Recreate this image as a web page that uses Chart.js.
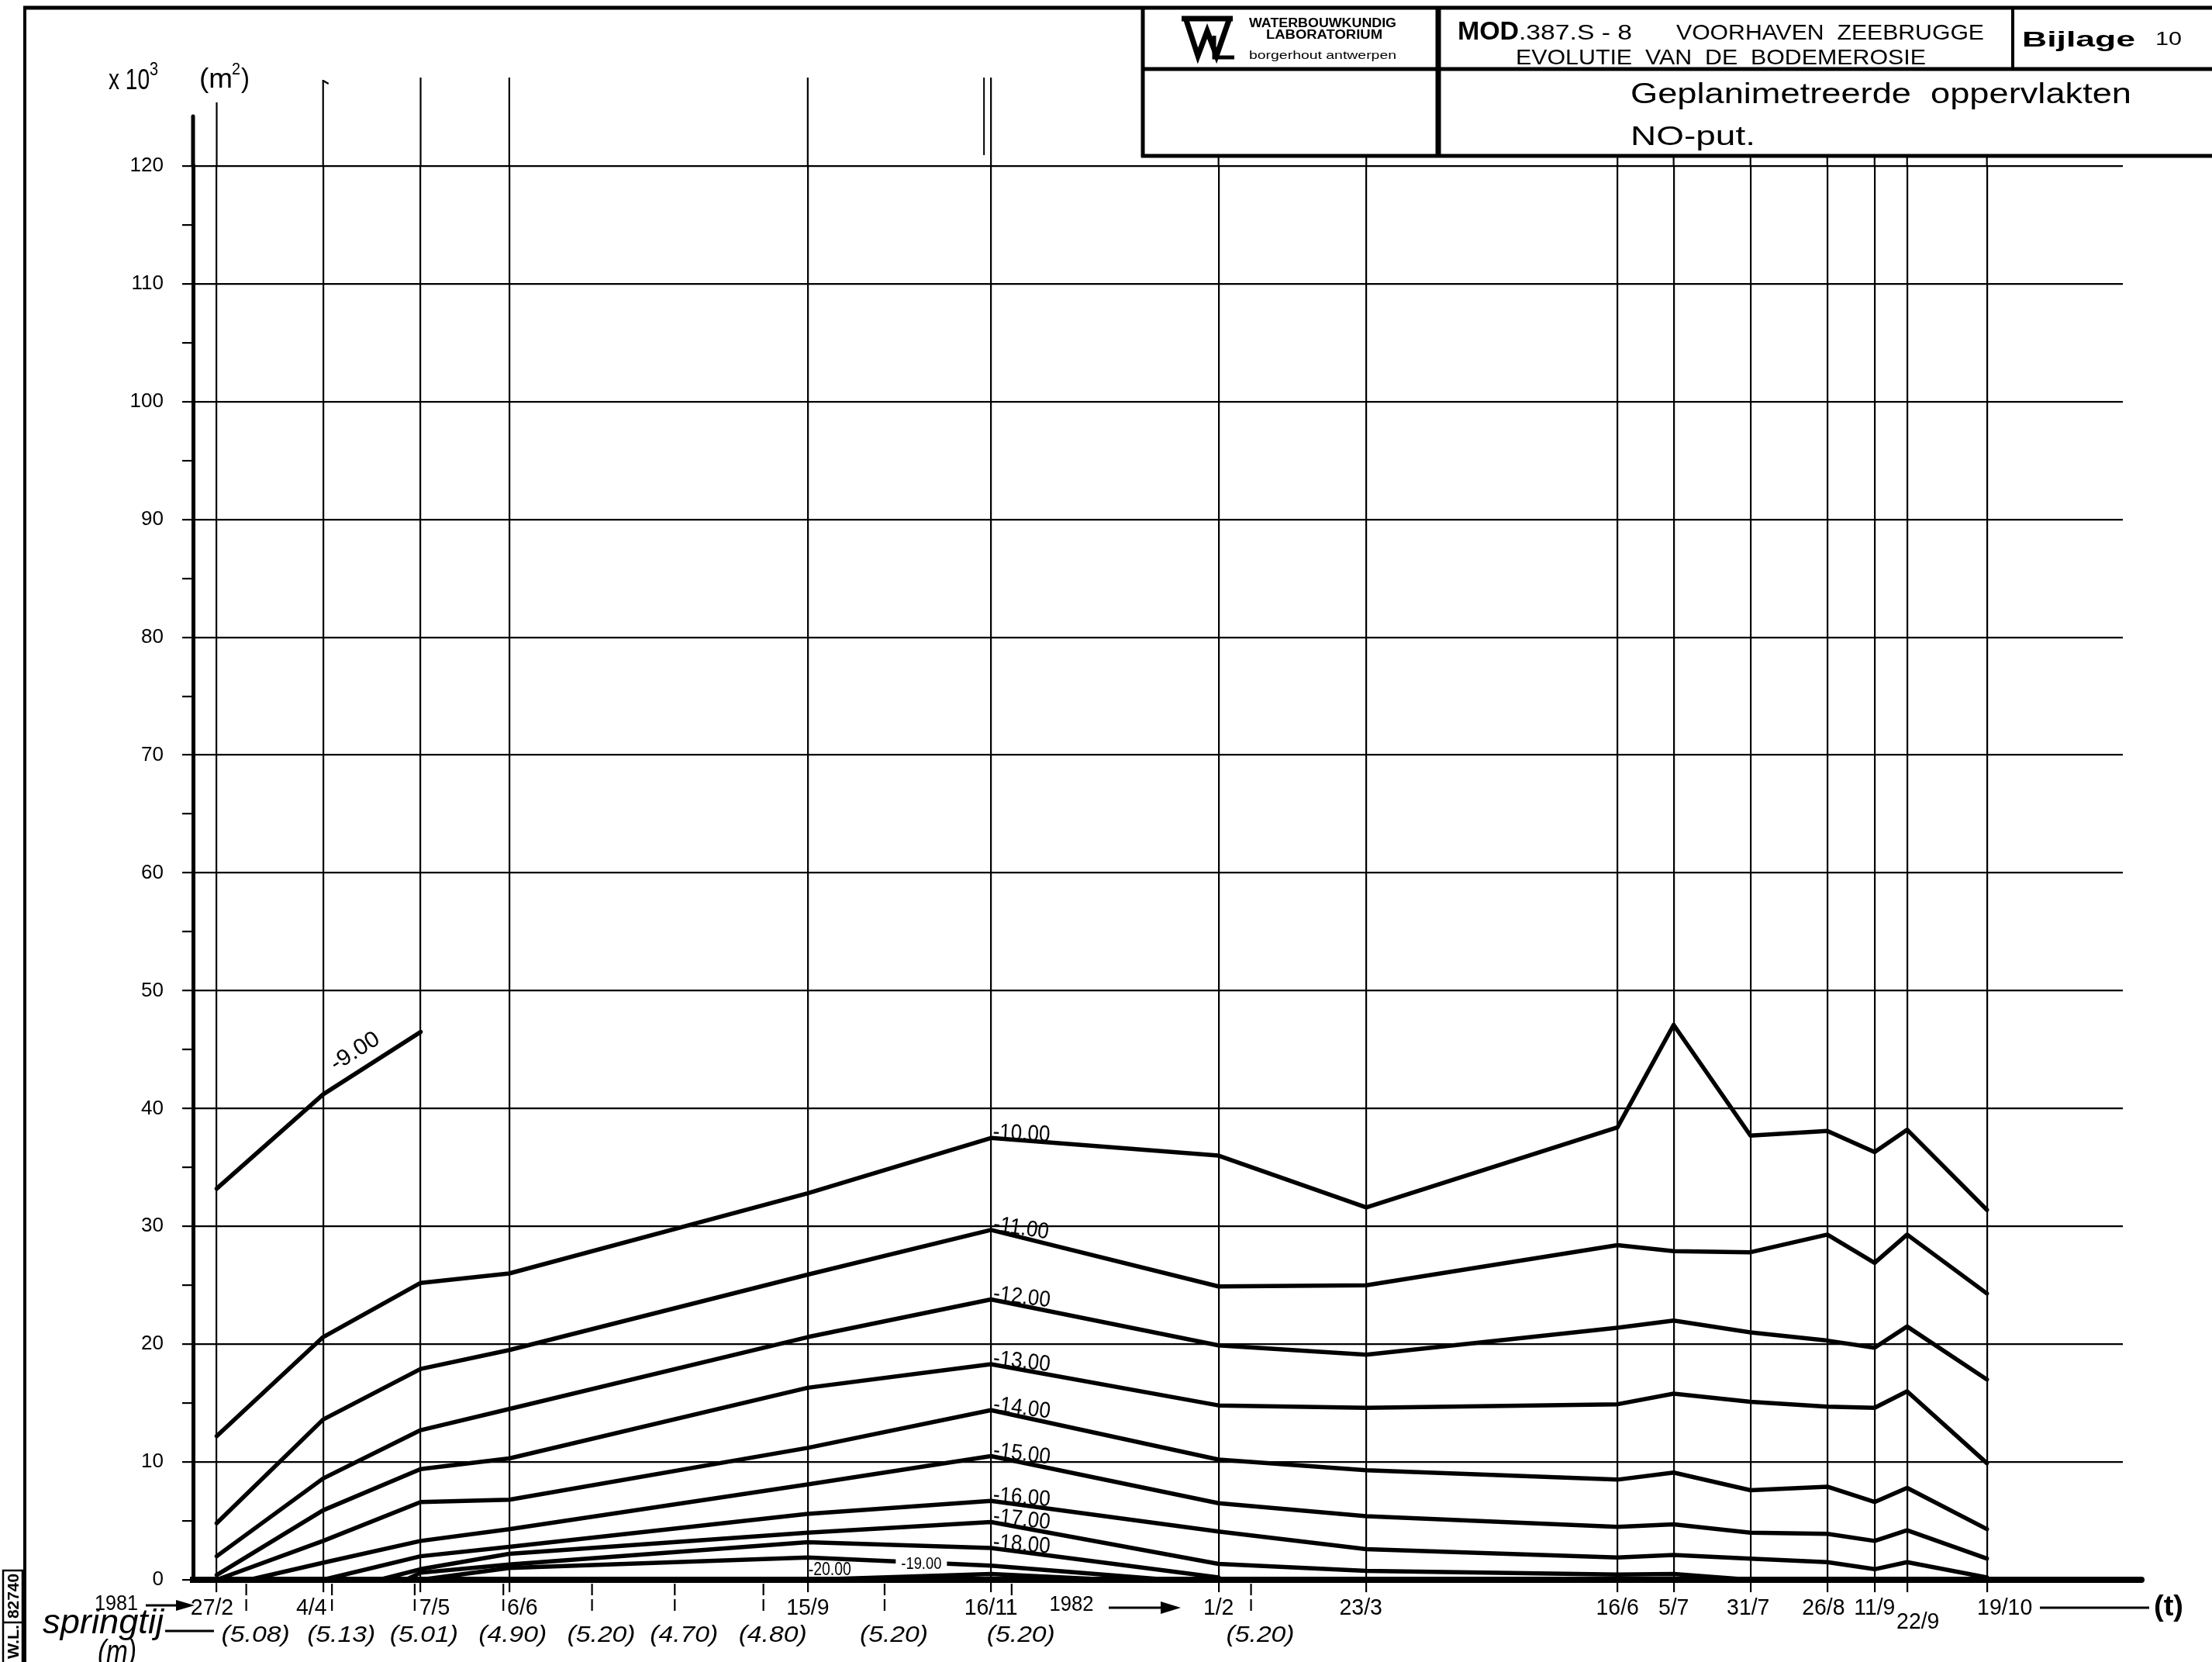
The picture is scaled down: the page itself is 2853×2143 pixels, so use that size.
<!DOCTYPE html>
<html>
<head>
<meta charset="utf-8">
<title>Voorhaven Zeebrugge – Geplanimetreerde oppervlakten NO-put</title>
<script src="https://cdn.jsdelivr.net/npm/chart.js@4.4.1/dist/chart.umd.min.js"></script>
<style>
  html, body { margin: 0; padding: 0; background: #fff; overflow: hidden; }
  #sheet { position: relative; width: 2853px; height: 2143px; }
  canvas { display: block; }
</style>
</head>
<body>
<div id="sheet"><canvas id="chart" width="2853" height="2143"></canvas></div>
<script>
// ---- survey campaigns (x axis) ----
const surveyDates = ['1981-02-27', '1981-04-04', '1981-05-07', '1981-06-06', '1981-09-15', '1981-11-16',
                     '1982-02-01', '1982-03-23', '1982-06-16', '1982-07-05', '1982-07-31', '1982-08-26',
                     '1982-09-11', '1982-09-22', '1982-10-19'];
const surveyLabels = ['27/2', '4/4', '7/5', '6/6', '15/9', '16/11', '1/2', '23/3', '16/6', '5/7', '31/7',
                      '26/8', '11/9', '22/9', '19/10'];

// ---- spring tides and their heights (m) ----
const springDates = ['1981-03-09', '1981-04-07', '1981-05-05', '1981-06-04', '1981-07-04', '1981-08-01',
                     '1981-08-31', '1981-10-11', '1981-11-23', '1982-02-12'];
const springHeights = ['5.08', '5.13', '5.01', '4.90', '5.20', '4.70', '4.80', '5.20', '5.20', '5.20'];

// ---- depth contours (m) ----
const depthLevels = ['-9.00', '-10.00', '-11.00', '-12.00', '-13.00', '-14.00',
                     '-15.00', '-16.00', '-17.00', '-18.00', '-19.00', '-20.00'];

// planimetered area inside each contour, x 10^3 m², one value per survey (null = not drawn)
const area_9  = [33.2, 41.2, 46.5, null, null, null, null, null, null, null, null, null, null, null, null];
const area_10 = [12.2, 20.6, 25.2, 26.0, 32.8, 37.5, 36.0, 31.6, 38.4, 47.1, 37.7, 38.1, 36.3, 38.2, 31.4];
const area_11 = [4.8, 13.6, 17.9, 19.5, 25.9, 29.7, 24.9, 25.0, 28.4, 27.9, 27.8, 29.3, 26.9, 29.3, 24.3];
const area_12 = [2.0, 8.6, 12.7, 14.5, 20.6, 23.8, 19.9, 19.1, 21.4, 22.0, 21.0, 20.3, 19.7, 21.5, 17.0];
const area_13 = [0.4, 5.9, 9.4, 10.3, 16.3, 18.3, 14.8, 14.6, 14.9, 15.8, 15.1, 14.7, 14.6, 16.0, 9.9];
const area_14 = [0, 3.3, 6.6, 6.8, 11.2, 14.4, 10.2, 9.3, 8.5, 9.1, 7.6, 7.9, 6.6, 7.8, 4.3];
const area_15 = [null, 1.45, 3.3, 4.3, 8.1, 10.5, 6.5, 5.4, 4.5, 4.7, 4.0, 3.9, 3.3, 4.2, 1.8];
const area_16 = [null, 0, 2.0, 2.8, 5.6, 6.7, 4.1, 2.6, 1.9, 2.1, 1.8, 1.5, 0.9, 1.5, 0.2];
const area_17 = [null, null, 0.9, 2.2, 4.0, 4.9, 1.35, 0.75, 0.45, 0.5, 0, null, null, null, null];
const area_18 = [null, null, 0.6, 1.3, 3.2, 2.7, 0.2, null, null, null, null, null, null, null, null];
const area_19 = [null, null, 0, 1.0, 1.9, 1.2, null, null, null, null, null, null, null, null, null];
const area_20 = [null, null, null, null, 0, 0.5, null, null, null, null, null, null, null, null, null];
const levelValues = [area_9, area_10, area_11, area_12, area_13, area_14,
                     area_15, area_16, area_17, area_18, area_19, area_20];

// dates where a contour leaves / returns to zero area between two surveys
const zeroStartDates = [null, null, null, null, null, null, '1981-03-10', null, '1981-04-23', '1981-05-02', null, null];
const zeroEndDates   = [null, null, null, null, null, null, null, null, null, null, '1982-01-15', '1981-12-27'];

// y axis
const yTickStep = 5;
const yMax = 120;

// ---------------------------------------------------------------
const T0 = Date.UTC(1981, 0, 1);
const dayOf = s => (Date.parse(s + 'T00:00:00Z') - T0) / 86400000;

const datasets = depthLevels.map((lvl, i) => {
  const pts = [];
  if (zeroStartDates[i]) pts.push({ x: dayOf(zeroStartDates[i]), y: 0 });
  levelValues[i].forEach((v, j) => { if (v !== null) pts.push({ x: dayOf(surveyDates[j]), y: v }); });
  if (zeroEndDates[i]) pts.push({ x: dayOf(zeroEndDates[i]), y: 0 });
  return { label: lvl, data: pts, borderColor: '#000', borderWidth: 5.5, pointRadius: 0,
           tension: 0, fill: false, clip: false, borderJoinStyle: 'round', borderCapStyle: 'round' };
});

const FONT = '"Liberation Sans", Arial, sans-serif';

function txt(c, s, x, y, o) {
  o = o || {};
  c.save();
  c.translate(x, y);
  if (o.rot) c.rotate(o.rot);
  c.font = o.font;
  let sx = o.sx || 1;
  if (o.w) sx = o.w / c.measureText(s).width;
  c.scale(sx, 1);
  c.textAlign = o.align || 'left';
  c.textBaseline = 'alphabetic';
  c.fillStyle = '#000';
  c.fillText(s, 0, 0);
  c.restore();
}
function seg(c, x1, y1, x2, y2, w, cap) {
  c.save();
  c.strokeStyle = '#000';
  c.lineWidth = w;
  c.lineCap = cap || 'butt';
  c.beginPath(); c.moveTo(x1, y1); c.lineTo(x2, y2); c.stroke();
  c.restore();
}
function arrowHead(c, x, y, len, half) {
  c.save(); c.fillStyle = '#000';
  c.beginPath(); c.moveTo(x, y); c.lineTo(x - len, y - half); c.lineTo(x - len, y + half); c.closePath(); c.fill();
  c.restore();
}

// label placement tweaks for the date row
const dateLabelShift = { '27/2': [-6, 0], '4/4': [-15, 0], '7/5': [18, 0], '6/6': [17, 0], '23/3': [-7, 0],
                         '31/7': [-3, 0], '26/8': [-5, 0], '22/9': [14, 18], '19/10': [23, 0] };

const sheetPlugin = {
  id: 'drawingSheet',
  beforeDraw(chart) {
    const c = chart.ctx;
    c.save(); c.fillStyle = '#fff'; c.fillRect(0, 0, chart.width, chart.height); c.restore();
  },
  afterDatasetsDraw(chart) {
    const c = chart.ctx, xs = chart.scales.x, ys = chart.scales.y, area = chart.chartArea;
    const px = d => xs.getPixelForValue(dayOf(d));
    const py = v => ys.getPixelForValue(v);
    const y0 = py(0);

    // survey lines continue above the grid
    surveyDates.forEach((d, i) => {
      let top = d < '1982' ? 100 : 203;
      if (i === 0) top = 132;
      if (i === 1) top = 103;
      seg(c, px(d), area.top, px(d), top, 2.2);
    });
    seg(c, px(surveyDates[1]), 104, px(surveyDates[1]) + 7, 108, 2.2);
    seg(c, px(surveyDates[5]) - 9, 100, px(surveyDates[5]) - 9, 200, 2);

    // axis extensions
    seg(c, area.left, area.top, area.left, 150, 5, 'round');
    seg(c, area.right - 2, y0, area.right + 24, y0, 8, 'round');

    // spring tide markers
    c.save();
    c.setLineDash([15, 5]);
    springDates.forEach(d => seg(c, px(d), y0 + 5, px(d), y0 + 41, 2.2));
    c.restore();

    // date row
    surveyLabels.forEach((lab, i) => {
      const sh = dateLabelShift[lab] || [0, 0];
      txt(c, lab, px(surveyDates[i]) + sh[0], 2082 + sh[1], { font: '29px ' + FONT, sx: 0.98, align: 'center' });
    });
    txt(c, '1981', 150, 2076, { font: '27px ' + FONT, w: 56, align: 'center' });
    seg(c, 188, 2070, 232, 2070, 3);
    arrowHead(c, 251, 2070, 24, 7);
    txt(c, '1982', 1382, 2077, { font: '28px ' + FONT, w: 57, align: 'center' });
    seg(c, 1430, 2073, 1500, 2073, 3);
    arrowHead(c, 1523, 2073, 26, 8);
    seg(c, 2631, 2073, 2772, 2073, 3);
    txt(c, '(t)', 2797, 2083, { font: 'bold 36px ' + FONT, w: 38, align: 'center' });

    // spring tide row
    springHeights.forEach((h, i) => {
      txt(c, '(' + h + ')', px(springDates[i]) + 12, 2117, { font: 'italic 30px ' + FONT, w: 88, align: 'center' });
    });
    txt(c, 'springtij', 55, 2106, { font: 'italic 44px ' + FONT, w: 156 });
    seg(c, 213, 2103, 276, 2103, 3);
    txt(c, '(m)', 126, 2144, { font: 'italic 42px ' + FONT, w: 50 });

    // contour labels
    const iNov = surveyDates.indexOf('1981-11-16');
    depthLevels.forEach((lvl, i) => {
      const vals = levelValues[i];
      if (lvl === '-9.00') {
        const x1 = px(surveyDates[1]), y1 = py(vals[1]), x2 = px(surveyDates[2]), y2 = py(vals[2]);
        const a = Math.atan2(y2 - y1, x2 - x1);
        const t = 0.2, bx = x1 + (x2 - x1) * t, by = y1 + (y2 - y1) * t;
        txt(c, lvl, bx + Math.sin(a) * 16, by - Math.cos(a) * 16, { font: '29px ' + FONT, sx: 1.05, rot: a });
      } else if (lvl === '-19.00') {
        const x1 = px(surveyDates[4]), y1 = py(vals[4]), x2 = px(surveyDates[5]), y2 = py(vals[5]);
        const t = 0.62, cx = x1 + (x2 - x1) * t, cy = y1 + (y2 - y1) * t;
        c.save(); c.fillStyle = '#fff'; c.fillRect(cx - 33, cy - 11, 66, 20); c.restore();
        txt(c, lvl, cx, cy + 8, { font: '22px ' + FONT, w: 52, align: 'center' });
      } else if (lvl === '-20.00') {
        txt(c, lvl, px(surveyDates[4]) + 1, y0 - 6, { font: '23px ' + FONT, w: 55 });
      } else {
        const vx = px(surveyDates[iNov]), vy = py(vals[iNov]);
        const nx = px(surveyDates[iNov + 1]), ny = py(vals[iNov + 1]);
        const a = Math.atan2(ny - vy, nx - vx) * 0.6;
        txt(c, lvl, vx + 2, vy + 1, { font: '29px ' + FONT, sx: 0.9, rot: a });
      }
    });

    // unit above the y axis
    txt(c, 'x 10', 140, 115, { font: '37px ' + FONT, w: 53 });
    txt(c, '3', 193, 97, { font: '24px ' + FONT, w: 11 });
    txt(c, '(m', 257, 113, { font: '35px ' + FONT, w: 43 });
    txt(c, '2', 299, 96, { font: '22px ' + FONT, w: 11 });
    txt(c, ')', 311, 113, { font: '35px ' + FONT, w: 11 });

    // sheet frame and title block
    seg(c, 32, 8, 32, 2143, 4);
    seg(c, 30, 10, 2853, 10, 5);
    seg(c, 1474, 10, 1474, 203, 5);
    seg(c, 1474, 89, 2853, 89, 5);
    seg(c, 1472, 201, 2853, 201, 5);
    seg(c, 1855, 10, 1855, 201, 7);
    seg(c, 2596, 10, 2596, 89, 4);

    // laboratory mark
    c.save();
    c.strokeStyle = '#000'; c.lineJoin = 'miter'; c.lineWidth = 7;
    c.beginPath(); c.moveTo(1524, 24); c.lineTo(1590, 24); c.stroke();
    c.beginPath(); c.moveTo(1530, 26); c.lineTo(1545, 72); c.lineTo(1557, 40); c.lineTo(1569, 72); c.lineTo(1585, 26); c.stroke();
    c.lineWidth = 5;
    c.beginPath(); c.moveTo(1566, 46); c.lineTo(1566, 74); c.lineTo(1592, 74); c.stroke();
    c.restore();
    txt(c, 'WATERBOUWKUNDIG', 1706, 35, { font: 'bold 16px ' + FONT, w: 190, align: 'center' });
    txt(c, 'LABORATORIUM', 1708, 50, { font: 'bold 16px ' + FONT, w: 150, align: 'center' });
    txt(c, 'borgerhout antwerpen', 1706, 76, { font: '15px ' + FONT, w: 190, align: 'center' });

    txt(c, 'MOD', 1880, 51, { font: 'bold 33px ' + FONT, w: 79 });
    txt(c, '.387.S - 8', 1959, 51, { font: '28px ' + FONT, w: 146 });
    txt(c, 'VOORHAVEN  ZEEBRUGGE', 2162, 51, { font: '28px ' + FONT, w: 397 });
    txt(c, 'EVOLUTIE  VAN  DE  BODEMEROSIE', 1955, 83, { font: '28px ' + FONT, w: 529 });
    txt(c, 'Bijlage', 2608, 60, { font: 'bold 27px ' + FONT, w: 146 });
    txt(c, '10', 2780, 58, { font: '24px ' + FONT, w: 34 });
    txt(c, 'Geplanimetreerde  oppervlakten', 2103, 133, { font: '37px ' + FONT, w: 646 });
    txt(c, 'NO-put.', 2103, 187, { font: '35px ' + FONT, w: 161 });

    // drawing register number
    c.save();
    c.strokeStyle = '#000'; c.lineWidth = 2.5;
    c.strokeRect(4, 2025, 25, 125);
    seg(c, 4, 2092, 29, 2092, 2.5);
    c.restore();
    txt(c, '82740', 24, 2058, { font: 'bold 20px ' + FONT, w: 58, align: 'center', rot: -Math.PI / 2 });
    txt(c, 'W.L.', 24, 2117, { font: 'bold 20px ' + FONT, w: 44, align: 'center', rot: -Math.PI / 2 });
  }
};

new Chart(document.getElementById('chart').getContext('2d'), {
  type: 'line',
  data: { datasets },
  options: {
    responsive: false,
    animation: false,
    devicePixelRatio: 1,
    layout: { padding: { top: 214, right: 115, bottom: 0, left: 0 } },
    plugins: { legend: { display: false }, tooltip: { enabled: false } },
    scales: {
      x: {
        type: 'linear',
        bounds: 'data',
        min: dayOf('1981-02-19'),
        max: dayOf('1982-12-04'),
        afterBuildTicks: s => { s.ticks = surveyDates.map(d => ({ value: dayOf(d) })); },
        afterFit: s => { s.height = 106; },
        ticks: { display: false },
        grid: { color: '#000', lineWidth: 2.2, drawTicks: true, tickLength: 16, tickColor: '#000', tickWidth: 2.2 },
        border: { display: true, color: '#000', width: 8 }
      },
      y: {
        min: 0,
        max: yMax,
        bounds: 'data',
        afterFit: s => { s.width = 249; },
        ticks: {
          stepSize: yTickStep,
          autoSkip: false,
          padding: 24,
          color: '#000',
          font: { family: FONT, size: 26 },
          callback: v => (v % 10 === 0 ? String(v) : '')
        },
        grid: {
          color: ctx => (ctx.tick && ctx.tick.value % 10 === 0 ? '#000' : 'rgba(0,0,0,0)'),
          lineWidth: 2.2,
          drawTicks: true,
          tickLength: 14,
          tickColor: '#000',
          tickWidth: 2.2
        },
        border: { display: true, color: '#000', width: 5 }
      }
    }
  },
  plugins: [sheetPlugin]
});
</script>
</body>
</html>
